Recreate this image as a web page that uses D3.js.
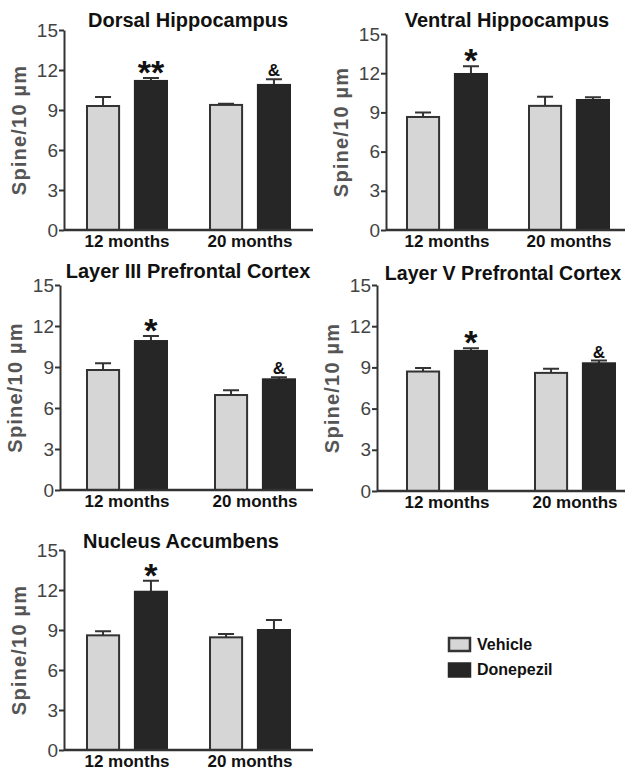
<!DOCTYPE html>
<html>
<head>
<meta charset="utf-8">
<script src="https://cdn.jsdelivr.net/npm/d3@7/dist/d3.min.js"></script>
<style>
  body { margin: 0; background: #fff; }
  svg text { font-family: "Liberation Sans", Arial, sans-serif; }
</style>
</head>
<body>
<div id="chart"></div>
<script>
// datos
const titles = ["Dorsal Hippocampus", "Ventral Hippocampus", "Layer III Prefrontal Cortex",
  "Layer V Prefrontal Cortex", "Nucleus Accumbens"];
const groups = ["12 months", "20 months"];
const series = ["Vehicle", "Donepezil"];
const yTicks = [0, 3, 6, 9, 12, 15];

const vehicleMean = [[9.3, 9.38], [8.65, 9.5], [8.78, 6.95], [8.7, 8.6], [8.6, 8.45]];
const vehicleSem = [[0.68, 0.08], [0.35, 0.7], [0.5, 0.35], [0.25, 0.3], [0.3, 0.25]];
const donepezilMean = [[11.18, 10.88], [11.94, 9.95], [10.9, 8.1], [10.2, 9.3], [11.87, 9.0]];
const donepezilSem = [[0.22, 0.42], [0.6, 0.2], [0.37, 0.15], [0.2, 0.2], [0.83, 0.75]];
const marks = [["**", "&"], ["*", ""], ["*", "&"], ["*", "&"], ["*", ""]];

// posicion de cada panel
const layout = [
  { left: 64, top: 30, bottom: 230, right: 313, x0: 65.5, x1: 311.5, tx: 188, ty: 27, fs: 20 },
  { left: 386, top: 34, bottom: 230, right: 625, x0: 386, x1: 630, tx: 507, ty: 27, fs: 20 },
  { left: 60, top: 285, bottom: 490, right: 313, x0: 63, x1: 319, tx: 188, ty: 278, fs: 20 },
  { left: 377, top: 285, bottom: 491, right: 625, x0: 383, x1: 639, tx: 503, ty: 280, fs: 19.6 },
  { left: 64, top: 550, bottom: 750, right: 313, x0: 65.5, x1: 311.5, tx: 181, ty: 548, fs: 20 }
];

const fills = { Vehicle: "#d6d6d6", Donepezil: "#262626" };
const ink = "#333";

const svg = d3.select("#chart").append("svg")
  .attr("width", 625)
  .attr("height", 770);

titles.forEach((title, i) => {
  const L = layout[i];
  const g = svg.append("g");

  const y = d3.scaleLinear().domain([0, 15]).range([L.bottom, L.top]);
  const x = d3.scaleBand().domain(groups).range([L.x0, L.x1]);
  const bw = x.bandwidth();
  const xs = d3.scaleBand().domain(series).range([bw / 2 - 40, bw / 2 + 40]).paddingInner(0.33);

  const rows = [];
  groups.forEach((grp, j) => {
    rows.push({ grp, s: "Vehicle", mean: vehicleMean[i][j], sem: vehicleSem[i][j], mark: "" });
    rows.push({ grp, s: "Donepezil", mean: donepezilMean[i][j], sem: donepezilSem[i][j], mark: marks[i][j] });
  });

  const cx = d => x(d.grp) + xs(d.s) + xs.bandwidth() / 2;

  // barras de error
  g.selectAll(".err")
    .data(rows)
    .enter()
    .append("path")
    .attr("d", d => `M${cx(d)},${y(d.mean)}V${y(d.mean + d.sem)}M${cx(d) - 8},${y(d.mean + d.sem)}H${cx(d) + 8}`)
    .attr("stroke", ink)
    .attr("stroke-width", 2)
    .attr("fill", "none");

  g.selectAll(".bar")
    .data(rows)
    .enter()
    .append("rect")
    .attr("x", d => x(d.grp) + xs(d.s))
    .attr("y", d => y(d.mean))
    .attr("width", xs.bandwidth())
    .attr("height", d => y(0) - y(d.mean))
    .attr("fill", d => fills[d.s])
    .attr("stroke", d => d.s === "Vehicle" ? ink : fills[d.s])
    .attr("stroke-width", 2);

  // asteriscos y &
  g.selectAll(".mark")
    .data(rows.filter(d => d.mark))
    .enter()
    .append("text")
    .attr("x", cx)
    .attr("y", d => d.mark === "&" ? y(d.mean + d.sem) - 3 : y(d.mean + d.sem) + 6)
    .attr("text-anchor", "middle")
    .attr("font-size", d => d.mark === "&" ? 17 : 34)
    .attr("font-weight", "bold")
    .attr("fill", "#111")
    .text(d => d.mark);

  // eje y
  const ay = g.append("g")
    .attr("transform", `translate(${L.left},0)`)
    .call(d3.axisLeft(y).tickValues(yTicks).tickSize(5).tickSizeOuter(0).tickPadding(1));
  ay.select(".domain").attr("stroke", ink).attr("stroke-width", 2);
  ay.selectAll(".tick line").attr("stroke", ink).attr("stroke-width", 2);
  ay.selectAll(".tick text")
    .attr("font-size", 19)
    .attr("font-family", "Liberation Sans, Arial, sans-serif")
    .attr("fill", "#444");

  // eje x
  g.append("line")
    .attr("x1", L.left).attr("x2", L.right)
    .attr("y1", L.bottom).attr("y2", L.bottom)
    .attr("stroke", ink)
    .attr("stroke-width", 2.5);

  g.selectAll(".xlab")
    .data(groups)
    .enter()
    .append("text")
    .attr("x", d => x(d) + bw / 2)
    .attr("y", L.bottom + 17)
    .attr("text-anchor", "middle")
    .attr("font-size", 17)
    .attr("font-weight", "bold")
    .attr("fill", "#111")
    .text(d => d);

  g.append("text")
    .attr("transform", `translate(${L.left - 38},${(L.top + L.bottom) / 2}) rotate(-90)`)
    .attr("text-anchor", "middle")
    .attr("font-size", 20)
    .attr("font-weight", "bold")
    .attr("letter-spacing", 1.2)
    .attr("fill", "#555")
    .text("Spine/10 µm");

  g.append("text")
    .attr("x", L.tx)
    .attr("y", L.ty)
    .attr("text-anchor", "middle")
    .attr("font-size", L.fs)
    .attr("font-weight", "bold")
    .attr("fill", "#111")
    .text(title);
});

// leyenda
const legend = svg.append("g").attr("transform", "translate(448,637)");
const item = legend.selectAll(".item")
  .data(series)
  .enter()
  .append("g")
  .attr("transform", (d, i) => `translate(0,${i * 25.5})`);

item.append("rect")
  .attr("x", 1).attr("y", 1)
  .attr("width", 21).attr("height", 13)
  .attr("fill", d => fills[d])
  .attr("stroke", d => d === "Vehicle" ? ink : fills[d])
  .attr("stroke-width", 2.5);

item.append("text")
  .attr("x", 29)
  .attr("y", 12.5)
  .attr("font-size", 16)
  .attr("font-weight", "bold")
  .attr("fill", "#111")
  .text(d => d);
</script>
</body>
</html>
